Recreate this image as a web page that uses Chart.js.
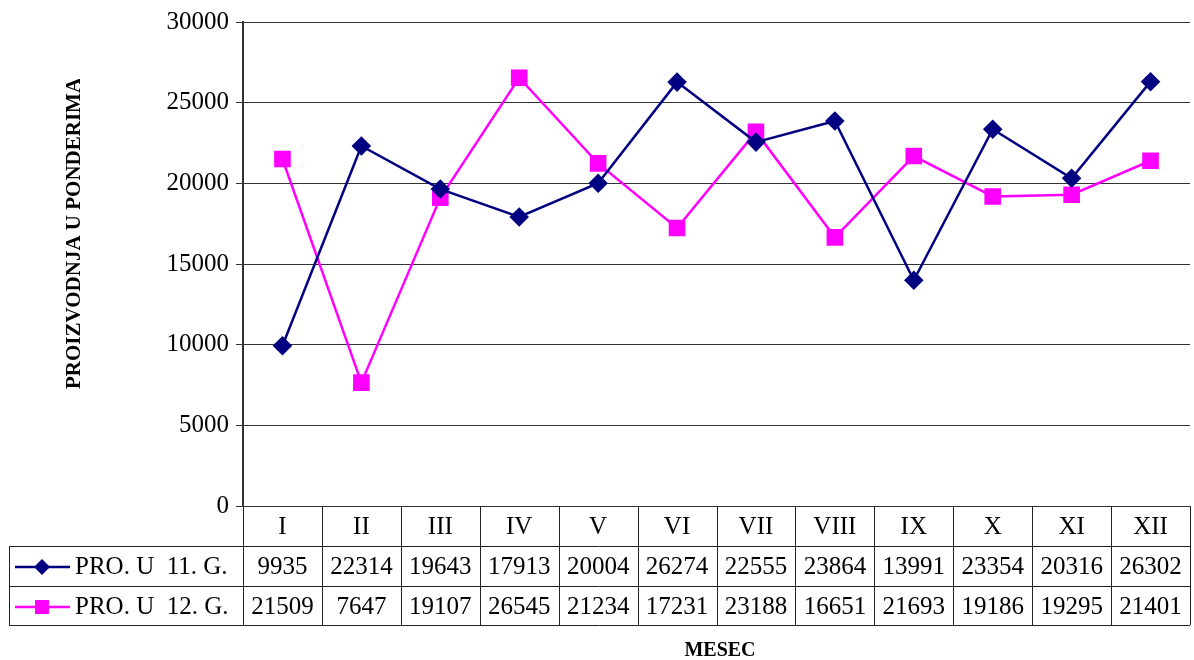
<!DOCTYPE html>
<html>
<head>
<meta charset="utf-8">
<script src="https://cdn.jsdelivr.net/npm/chart.js@4"></script>
<style>
  html, body { margin: 0; padding: 0; background: #fff; }
  #wrap { width: 1194px; height: 660px; }
</style>
</head>
<body>
<div id="wrap"><canvas id="chart" width="1194" height="660"></canvas></div>
<script>
const months = ['I', 'II', 'III', 'IV', 'V', 'VI', 'VII', 'VIII', 'IX', 'X', 'XI', 'XII'];
const pro11 = [9935, 22314, 19643, 17913, 20004, 26274, 22555, 23864, 13991, 23354, 20316, 26302];
const pro12 = [21509, 7647, 19107, 26545, 21234, 17231, 23188, 16651, 21693, 19186, 19295, 21401];
const seriesNames = ['PRO. U  11. G.', 'PRO. U  12. G.'];
const yTitle = 'PROIZVODNJA U PONDERIMA';
const xTitle = 'MESEC';

const FONT = '"Liberation Serif", "Times New Roman", serif';
const colors = ['#000080', '#FF00FF'];
const markers = ['rectRot', 'rect'];

// data table + axis titles drawn under the plot
const tablePlugin = {
  id: 'dataTable',
  afterDraw(chart) {
    const ctx = chart.ctx;
    const area = chart.chartArea;
    const step = (area.right - area.left) / months.length;
    const rowBottom = 625;
    const tableLeft = 9;

    ctx.save();
    ctx.strokeStyle = '#222';
    ctx.lineWidth = 1;

    // horizontal lines
    ctx.beginPath();
    ctx.moveTo(tableLeft, 546.5); ctx.lineTo(area.right, 546.5);
    ctx.moveTo(tableLeft, 586.5); ctx.lineTo(area.right, 586.5);
    ctx.moveTo(tableLeft, rowBottom + 0.5); ctx.lineTo(area.right, rowBottom + 0.5);
    // vertical lines
    ctx.moveTo(tableLeft + 0.5, 546); ctx.lineTo(tableLeft + 0.5, rowBottom);
    for (let i = 0; i <= months.length; i++) {
      const x = Math.round(area.left + i * step) + 0.5;
      ctx.moveTo(x, area.bottom); ctx.lineTo(x, rowBottom);
    }
    ctx.stroke();

    ctx.fillStyle = '#000';
    ctx.font = '25px ' + FONT;
    ctx.textAlign = 'center';
    ctx.textBaseline = 'middle';
    months.forEach((m, i) => {
      const cx = area.left + (i + 0.5) * step;
      ctx.fillText(m, cx, 527);
      ctx.fillText(String(pro11[i]), cx, 567);
      ctx.fillText(String(pro12[i]), cx, 607);
    });

    // legend keys
    [567, 607].forEach((cy, k) => {
      ctx.strokeStyle = colors[k];
      ctx.lineWidth = 2.5;
      ctx.beginPath();
      ctx.moveTo(15, cy); ctx.lineTo(70, cy);
      ctx.stroke();
      ctx.fillStyle = colors[k];
      if (k === 0) {
        ctx.beginPath();
        ctx.moveTo(42, cy - 8); ctx.lineTo(50, cy); ctx.lineTo(42, cy + 8); ctx.lineTo(34, cy);
        ctx.closePath();
        ctx.fill();
      } else {
        ctx.fillRect(35, cy - 7, 14, 14);
      }
      ctx.fillStyle = '#000';
      ctx.textAlign = 'left';
      ctx.font = '25px ' + FONT;
      ctx.fillText(seriesNames[k], 75, cy);
    });

    // x title
    ctx.font = 'bold 20px ' + FONT;
    ctx.textAlign = 'center';
    ctx.fillText(xTitle, 720, 651);

    // y title (clipped at top like the original)
    ctx.save();
    ctx.beginPath();
    ctx.rect(0, 79, 240, 400);
    ctx.clip();
    ctx.translate(75, 389);
    ctx.rotate(-Math.PI / 2);
    ctx.font = 'bold 21px ' + FONT;
    ctx.textAlign = 'left';
    ctx.textBaseline = 'middle';
    ctx.fillText(yTitle, 0, 0);
    ctx.restore();

    ctx.restore();
  }
};

new Chart(document.getElementById('chart'), {
  type: 'line',
  data: {
    labels: months,
    datasets: [
      {
        label: seriesNames[0],
        data: pro11,
        borderColor: colors[0],
        backgroundColor: colors[0],
        borderWidth: 2.5,
        pointStyle: markers[0],
        pointRadius: 8,
        pointHoverRadius: 8,
        tension: 0,
      },
      {
        label: seriesNames[1],
        data: pro12,
        borderColor: colors[1],
        backgroundColor: colors[1],
        borderWidth: 2.5,
        pointStyle: markers[1],
        pointRadius: 10,
        pointHoverRadius: 10,
        tension: 0,
      },
    ],
  },
  options: {
    responsive: false,
    animation: false,
    layout: {
      autoPadding: false, // otherwise point radius eats into the right edge
      padding: { top: 20, right: 4, bottom: 154, left: 0 },
    },
    plugins: {
      legend: { display: false },
      tooltip: { enabled: false },
    },
    scales: {
      x: {
        display: false,
        offset: true,
      },
      y: {
        min: 0,
        max: 30000,
        afterFit: (scale) => { scale.width = 243; },
        border: { color: '#333', width: 2 },
        grid: {
          color: '#333',
          lineWidth: 1,
          drawTicks: true,
          tickLength: 7,
        },
        ticks: {
          stepSize: 5000,
          color: '#000',
          padding: 7,
          font: { family: FONT, size: 25 },
          callback: (v) => String(v),
        },
      },
    },
  },
  plugins: [tablePlugin],
});
</script>
</body>
</html>
